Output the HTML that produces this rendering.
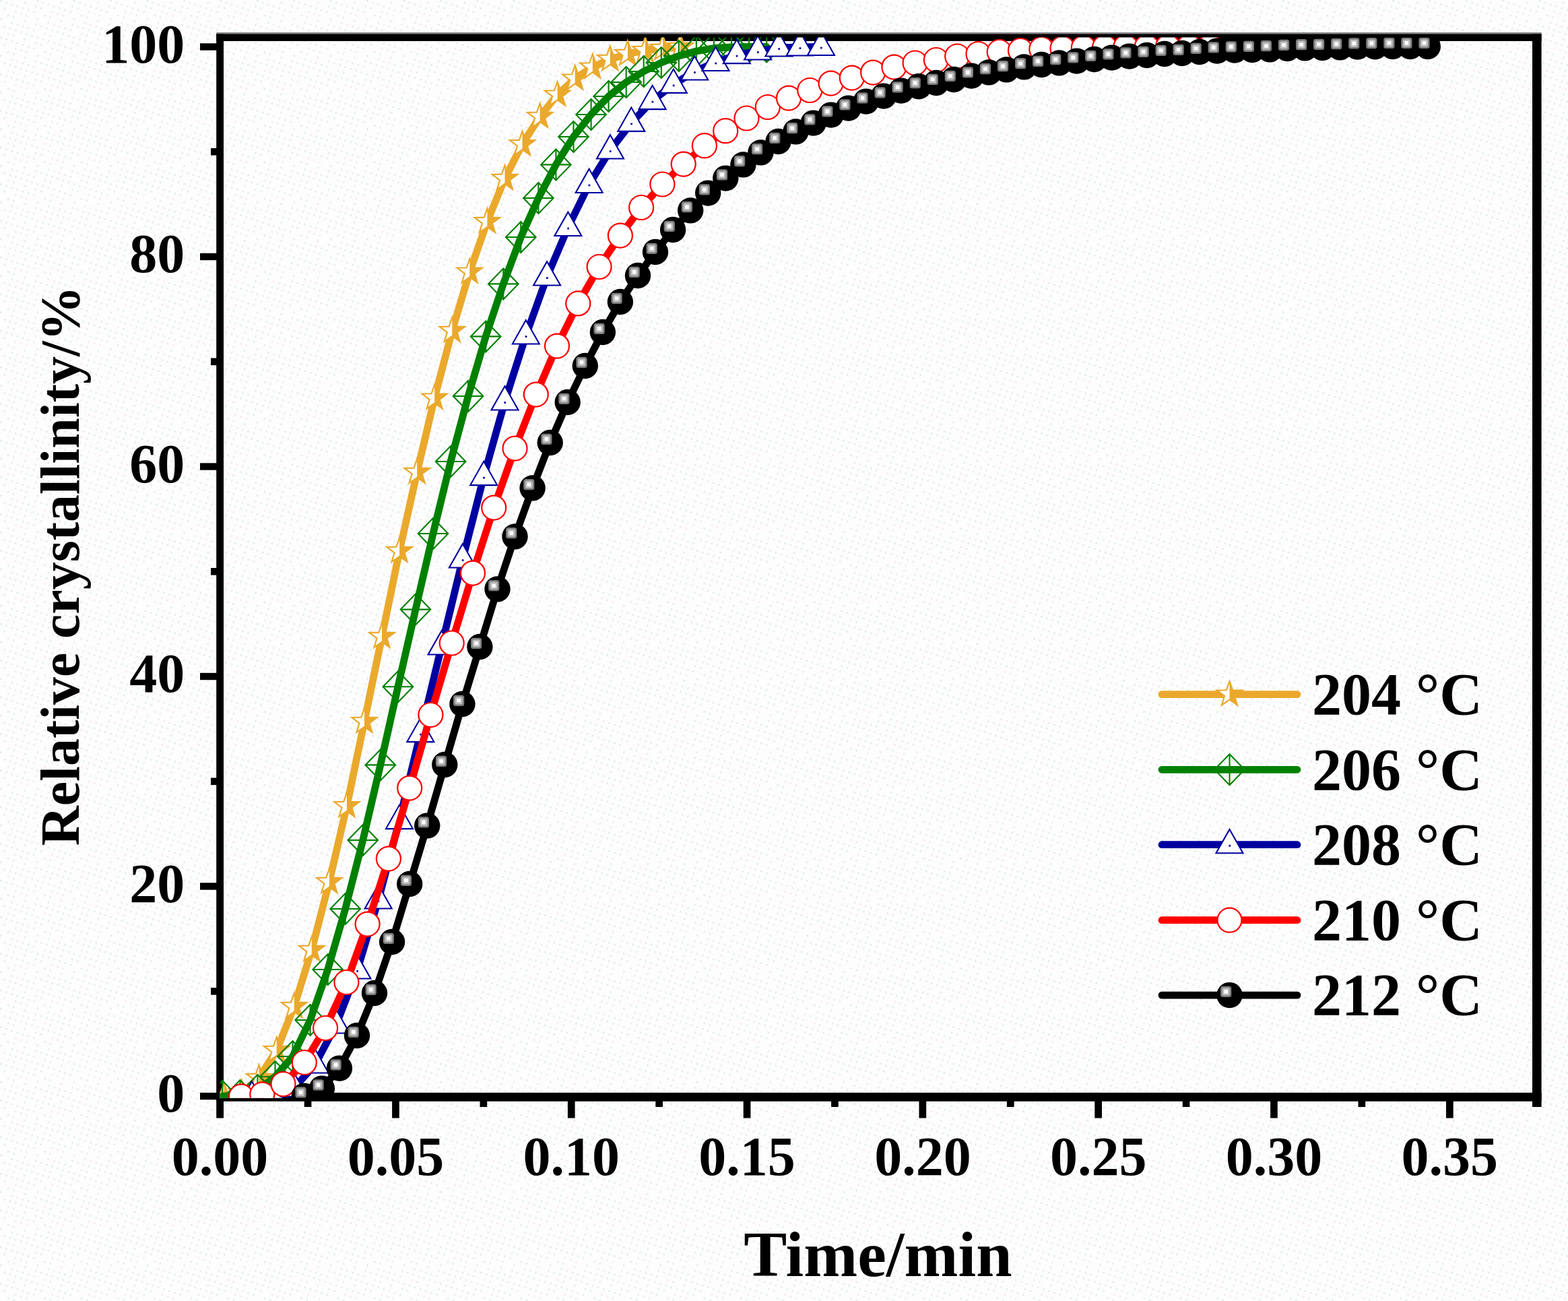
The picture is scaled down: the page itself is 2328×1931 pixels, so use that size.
<!DOCTYPE html>
<html lang="en">
<head>
<meta charset="utf-8">
<title>Relative crystallinity vs. time</title>
<style>
html,body{margin:0;padding:0;background:#fdfdfd;}
body{width:2328px;height:1931px;overflow:hidden;}
svg{display:block;}
text{font-family:"Liberation Serif","Times New Roman",Times,serif;font-weight:bold;fill:#000;}
.tk{font-size:82px;}
.lg{font-size:88px;}
.xt{font-size:96px;}
.yt{font-size:82px;}
</style>
</head>
<body>
<svg width="2328" height="1931" viewBox="0 0 2328 1931">
<defs><pattern id="dz" width="54.4" height="54.4" patternUnits="userSpaceOnUse"><rect x="0" y="0" width="2.72" height="2.72" fill="#e4eded"/><rect x="8.2" y="2.7" width="2.72" height="2.72" fill="#e4eded"/><rect x="5.4" y="10.9" width="2.72" height="2.72" fill="#e4eded"/><rect x="0" y="27.2" width="2.72" height="2.72" fill="#e4eded"/><rect x="16.3" y="5.4" width="2.72" height="2.72" fill="#e4eded"/><rect x="10.9" y="21.8" width="2.72" height="2.72" fill="#e4eded"/><rect x="5.4" y="38.1" width="2.72" height="2.72" fill="#e4eded"/><rect x="24.5" y="8.2" width="2.72" height="2.72" fill="#e4eded"/><rect x="21.8" y="16.3" width="2.72" height="2.72" fill="#f7eaea"/><rect x="19" y="24.5" width="2.72" height="2.72" fill="#e4eded"/><rect x="16.3" y="32.6" width="2.72" height="2.72" fill="#e4eded"/><rect x="13.6" y="40.8" width="2.72" height="2.72" fill="#e4eded"/><rect x="10.9" y="49" width="2.72" height="2.72" fill="#f7eaea"/><rect x="35.4" y="2.7" width="2.72" height="2.72" fill="#e4eded"/><rect x="32.6" y="10.9" width="2.72" height="2.72" fill="#e4eded"/><rect x="29.9" y="19" width="2.72" height="2.72" fill="#f7eaea"/><rect x="24.5" y="35.4" width="2.72" height="2.72" fill="#f7eaea"/><rect x="21.8" y="43.5" width="2.72" height="2.72" fill="#e4eded"/><rect x="19" y="51.7" width="2.72" height="2.72" fill="#e4eded"/><rect x="40.8" y="13.6" width="2.72" height="2.72" fill="#e4eded"/><rect x="38.1" y="21.8" width="2.72" height="2.72" fill="#f7eaea"/><rect x="35.4" y="29.9" width="2.72" height="2.72" fill="#e4eded"/><rect x="32.6" y="38.1" width="2.72" height="2.72" fill="#e4eded"/><rect x="29.9" y="46.2" width="2.72" height="2.72" fill="#e4eded"/><rect x="51.7" y="8.2" width="2.72" height="2.72" fill="#e4eded"/><rect x="49" y="16.3" width="2.72" height="2.72" fill="#e4eded"/><rect x="40.8" y="40.8" width="2.72" height="2.72" fill="#e4eded"/><rect x="38.1" y="49" width="2.72" height="2.72" fill="#e4eded"/><rect x="51.7" y="35.4" width="2.72" height="2.72" fill="#e4eded"/><rect x="49" y="43.5" width="2.72" height="2.72" fill="#e4eded"/><rect x="46.2" y="51.7" width="2.72" height="2.72" fill="#e4eded"/></pattern><g id="mS"><polygon points="0.00,-19.60 4.61,-6.34 18.64,-6.06 7.46,2.42 11.52,15.86 0.00,7.84 -11.52,15.86 -7.46,2.42 -18.64,-6.06 -4.61,-6.34" fill="#fff" stroke="none"/><polygon points="0.00,-19.60 4.61,-6.34 18.64,-6.06 7.46,2.42 11.52,15.86 0.00,7.84" fill="#EAA92C" stroke="none"/><polygon points="0.00,-19.60 4.61,-6.34 18.64,-6.06 7.46,2.42 11.52,15.86 0.00,7.84 -11.52,15.86 -7.46,2.42 -18.64,-6.06 -4.61,-6.34" fill="none" stroke="#EAA92C" stroke-width="2.2" stroke-linejoin="miter"/></g><g id="mD" fill="none" stroke="#008000" stroke-width="2.1"><polygon points="0,-23 22.3,0 0,23 -22.3,0"/><path d="M-22.3 0H22.3M0 -23V23"/></g><g id="mT"><polygon points="0,-22.8 20,12.5 -20,12.5" fill="#fff" stroke="#0000A0" stroke-width="2.1"/><rect x="-1.1" y="0.2" width="2.7" height="2.7" fill="#0000A0"/></g><circle id="mC" r="18" fill="#fff" stroke="#FF0000" stroke-width="2.2"/><g id="mB"><circle r="19.2" fill="#000"/><rect x="-13.4" y="-13.3" width="16.2" height="16.2" rx="3.5" fill="#7d7d7d"/><rect x="-10.9" y="-10.8" width="11.2" height="11.2" rx="2.2" fill="#bdbdbd"/><rect x="-8.1" y="-8" width="5.6" height="5.6" rx="0.8" fill="#fff"/></g><clipPath id="cp"><rect x="326.5" y="55.5" width="1955.5" height="1574.3"/></clipPath></defs>
<rect width="2328" height="1931" fill="#fdfdfd"/>
<rect width="2328" height="1931" fill="url(#dz)"/>
<g fill="#000">
<rect x="321.2" y="48" width="1967.4" height="3" fill="#8a858a"/>
<rect x="321.2" y="50.5" width="1967.4" height="10.5"/>
<rect x="321.2" y="1621.8" width="1967.4" height="12.9"/>
<rect x="321.2" y="50.5" width="10.8" height="1609"/>
<rect x="2275" y="50.5" width="13.6" height="1592.5"/>
<rect x="297" y="1621.8" width="25" height="10.4"/>
<rect x="313" y="1466" width="9" height="10.6"/>
<rect x="297" y="1310.3" width="25" height="10.4"/>
<rect x="313" y="1154.5" width="9" height="10.6"/>
<rect x="297" y="998.8" width="25" height="10.4"/>
<rect x="313" y="843" width="9" height="10.6"/>
<rect x="297" y="687.3" width="25" height="10.4"/>
<rect x="313" y="531.5" width="9" height="10.6"/>
<rect x="297" y="375.8" width="25" height="10.4"/>
<rect x="313" y="219.9" width="9" height="10.6"/>
<rect x="297" y="64.3" width="25" height="10.4"/>
<rect x="451.7" y="1634" width="10.7" height="9"/>
<rect x="582.1" y="1634" width="10.7" height="25.5"/>
<rect x="712.5" y="1634" width="10.7" height="9"/>
<rect x="842.9" y="1634" width="10.7" height="25.5"/>
<rect x="973.3" y="1634" width="10.7" height="9"/>
<rect x="1103.7" y="1634" width="10.7" height="25.5"/>
<rect x="1234.1" y="1634" width="10.7" height="9"/>
<rect x="1364.5" y="1634" width="10.7" height="25.5"/>
<rect x="1494.9" y="1634" width="10.7" height="9"/>
<rect x="1625.3" y="1634" width="10.7" height="25.5"/>
<rect x="1755.7" y="1634" width="10.7" height="9"/>
<rect x="1886.1" y="1634" width="10.7" height="25.5"/>
<rect x="2016.5" y="1634" width="10.7" height="9"/>
<rect x="2147" y="1634" width="10.7" height="25.5"/>
</g>
<g clip-path="url(#cp)">
<path d="M332.5 1627 L358.6 1622 L384.6 1600 L410.7 1559 L436.7 1494 L462.8 1410 L488.9 1309 L514.9 1196.2 L541 1071 L567 945 L593.1 818 L619.2 701 L645.2 590.6 L671.3 491 L697.3 403.6 L723.4 329 L749.5 265 L775.5 214.2 L801.6 173 L827.6 140.6 L853.7 116.6 L879.8 99.6 L905.8 88 L931.9 80 L957.9 75 L984 72 L1010.1 70" fill="none" stroke="#EAA92C" stroke-width="10.8" stroke-linejoin="round" stroke-linecap="round"/>
<use href="#mS" x="332.5" y="1627"/><use href="#mS" x="358.6" y="1622"/><use href="#mS" x="384.6" y="1600"/><use href="#mS" x="410.7" y="1559"/><use href="#mS" x="436.7" y="1494"/><use href="#mS" x="462.8" y="1410"/><use href="#mS" x="488.9" y="1309"/><use href="#mS" x="514.9" y="1196.2"/><use href="#mS" x="541" y="1071"/><use href="#mS" x="567" y="945"/><use href="#mS" x="593.1" y="818"/><use href="#mS" x="619.2" y="701"/><use href="#mS" x="645.2" y="590.6"/><use href="#mS" x="671.3" y="491"/><use href="#mS" x="697.3" y="403.6"/><use href="#mS" x="723.4" y="329"/><use href="#mS" x="749.5" y="265"/><use href="#mS" x="775.5" y="214.2"/><use href="#mS" x="801.6" y="173"/><use href="#mS" x="827.6" y="140.6"/><use href="#mS" x="853.7" y="116.6"/><use href="#mS" x="879.8" y="99.6"/><use href="#mS" x="905.8" y="88"/><use href="#mS" x="931.9" y="80"/><use href="#mS" x="957.9" y="75"/><use href="#mS" x="984" y="72"/><use href="#mS" x="1010.1" y="70"/>
<path d="M330.3 1627 L356.4 1626 L382.4 1618 L408.5 1598 L434.5 1568 L460.6 1514 L486.7 1439 L512.7 1349 L538.8 1247 L564.8 1135.4 L590.9 1019.2 L617 904.6 L643 792 L669.1 685 L695.1 588 L721.2 499.4 L747.3 421.4 L773.3 352 L799.4 294 L825.4 244.4 L851.5 203 L877.6 170 L903.6 143 L929.7 122 L955.7 106 L981.8 93 L1007.9 83 L1033.9 76 L1060 71.5 L1086 70 L1112.1 69.5 L1138.2 69.5" fill="none" stroke="#008000" stroke-width="10.8" stroke-linejoin="round" stroke-linecap="round"/>
<use href="#mD" x="330.3" y="1627"/><use href="#mD" x="356.4" y="1626"/><use href="#mD" x="382.4" y="1618"/><use href="#mD" x="408.5" y="1598"/><use href="#mD" x="434.5" y="1568"/><use href="#mD" x="460.6" y="1514"/><use href="#mD" x="486.7" y="1439"/><use href="#mD" x="512.7" y="1349"/><use href="#mD" x="538.8" y="1247"/><use href="#mD" x="564.8" y="1135.4"/><use href="#mD" x="590.9" y="1019.2"/><use href="#mD" x="617" y="904.6"/><use href="#mD" x="643" y="792"/><use href="#mD" x="669.1" y="685"/><use href="#mD" x="695.1" y="588"/><use href="#mD" x="721.2" y="499.4"/><use href="#mD" x="747.3" y="421.4"/><use href="#mD" x="773.3" y="352"/><use href="#mD" x="799.4" y="294"/><use href="#mD" x="825.4" y="244.4"/><use href="#mD" x="851.5" y="203"/><use href="#mD" x="877.6" y="170"/><use href="#mD" x="903.6" y="143"/><use href="#mD" x="929.7" y="122"/><use href="#mD" x="955.7" y="106"/><use href="#mD" x="981.8" y="93"/><use href="#mD" x="1007.9" y="83"/><use href="#mD" x="1033.9" y="76"/><use href="#mD" x="1060" y="71.5"/><use href="#mD" x="1086" y="70"/><use href="#mD" x="1112.1" y="69.5"/><use href="#mD" x="1138.2" y="69.5"/>
<path d="M373.9 1628 L405.2 1627 L436.5 1615 L467.8 1580 L499.1 1521 L530.4 1440 L561.7 1336 L593 1217.6 L624.3 1088.6 L655.6 959 L686.9 830 L718.2 707.6 L749.5 596 L780.8 498 L812.1 411 L843.4 337.5 L874.7 273.5 L906 223 L937.3 182.4 L968.6 149.6 L999.9 125.4 L1031.2 106 L1062.5 92.5 L1093.8 81.6 L1125.1 76 L1156.4 71 L1187.7 70 L1219 69.5" fill="none" stroke="#0000A0" stroke-width="10.8" stroke-linejoin="round" stroke-linecap="round"/>
<use href="#mT" x="373.9" y="1628"/><use href="#mT" x="405.2" y="1627"/><use href="#mT" x="436.5" y="1615"/><use href="#mT" x="467.8" y="1580"/><use href="#mT" x="499.1" y="1521"/><use href="#mT" x="530.4" y="1440"/><use href="#mT" x="561.7" y="1336"/><use href="#mT" x="593" y="1217.6"/><use href="#mT" x="624.3" y="1088.6"/><use href="#mT" x="655.6" y="959"/><use href="#mT" x="686.9" y="830"/><use href="#mT" x="718.2" y="707.6"/><use href="#mT" x="749.5" y="596"/><use href="#mT" x="780.8" y="498"/><use href="#mT" x="812.1" y="411"/><use href="#mT" x="843.4" y="337.5"/><use href="#mT" x="874.7" y="273.5"/><use href="#mT" x="906" y="223"/><use href="#mT" x="937.3" y="182.4"/><use href="#mT" x="968.6" y="149.6"/><use href="#mT" x="999.9" y="125.4"/><use href="#mT" x="1031.2" y="106"/><use href="#mT" x="1062.5" y="92.5"/><use href="#mT" x="1093.8" y="81.6"/><use href="#mT" x="1125.1" y="76"/><use href="#mT" x="1156.4" y="71"/><use href="#mT" x="1187.7" y="70"/><use href="#mT" x="1219" y="69.5"/>
<path d="M358 1627.4 L389.3 1624.4 L420.5 1609 L451.8 1577 L483.1 1526 L514.4 1458 L545.6 1371.6 L576.9 1274.6 L608.2 1169.6 L639.4 1061 L670.7 954.5 L702 850.6 L733.2 753.6 L764.5 665.6 L795.8 585.6 L827 513.6 L858.3 450.4 L889.6 396 L920.9 349.6 L952.1 308 L983.4 273.5 L1014.7 243.6 L1045.9 216.2 L1077.2 194.2 L1108.5 175.5 L1139.8 159 L1171 145.6 L1202.3 134 L1233.6 123.6 L1264.8 115.6 L1296.1 107.6 L1327.4 99.6 L1358.6 93.5 L1389.9 89 L1421.2 83.5 L1452.5 80 L1483.7 77 L1515 75 L1546.3 73 L1577.5 72 L1608.8 71 L1640.1 70.3 L1671.3 70 L1702.6 70 L1733.9 69.6 L1765.2 69.6 L1796.4 69.5" fill="none" stroke="#FF0000" stroke-width="10.8" stroke-linejoin="round" stroke-linecap="round"/>
<use href="#mC" x="358" y="1627.4"/><use href="#mC" x="389.3" y="1624.4"/><use href="#mC" x="420.5" y="1609"/><use href="#mC" x="451.8" y="1577"/><use href="#mC" x="483.1" y="1526"/><use href="#mC" x="514.4" y="1458"/><use href="#mC" x="545.6" y="1371.6"/><use href="#mC" x="576.9" y="1274.6"/><use href="#mC" x="608.2" y="1169.6"/><use href="#mC" x="639.4" y="1061"/><use href="#mC" x="670.7" y="954.5"/><use href="#mC" x="702" y="850.6"/><use href="#mC" x="733.2" y="753.6"/><use href="#mC" x="764.5" y="665.6"/><use href="#mC" x="795.8" y="585.6"/><use href="#mC" x="827" y="513.6"/><use href="#mC" x="858.3" y="450.4"/><use href="#mC" x="889.6" y="396"/><use href="#mC" x="920.9" y="349.6"/><use href="#mC" x="952.1" y="308"/><use href="#mC" x="983.4" y="273.5"/><use href="#mC" x="1014.7" y="243.6"/><use href="#mC" x="1045.9" y="216.2"/><use href="#mC" x="1077.2" y="194.2"/><use href="#mC" x="1108.5" y="175.5"/><use href="#mC" x="1139.8" y="159"/><use href="#mC" x="1171" y="145.6"/><use href="#mC" x="1202.3" y="134"/><use href="#mC" x="1233.6" y="123.6"/><use href="#mC" x="1264.8" y="115.6"/><use href="#mC" x="1296.1" y="107.6"/><use href="#mC" x="1327.4" y="99.6"/><use href="#mC" x="1358.6" y="93.5"/><use href="#mC" x="1389.9" y="89"/><use href="#mC" x="1421.2" y="83.5"/><use href="#mC" x="1452.5" y="80"/><use href="#mC" x="1483.7" y="77"/><use href="#mC" x="1515" y="75"/><use href="#mC" x="1546.3" y="73"/><use href="#mC" x="1577.5" y="72"/><use href="#mC" x="1608.8" y="71"/><use href="#mC" x="1640.1" y="70.3"/><use href="#mC" x="1671.3" y="70"/><use href="#mC" x="1702.6" y="70"/><use href="#mC" x="1733.9" y="69.6"/><use href="#mC" x="1765.2" y="69.6"/><use href="#mC" x="1796.4" y="69.5"/>
<path d="M451.8 1626.6 L477.9 1615.6 L503.9 1585.6 L530 1537 L556 1474 L582.1 1398 L608.2 1312 L634.2 1225.6 L660.3 1135 L686.4 1045 L712.4 960 L738.5 874.4 L764.5 796.4 L790.6 724.4 L816.7 657 L842.7 597 L868.8 543 L894.9 493 L920.9 448 L947 409 L973 374 L999.1 341 L1025.2 312.4 L1051.2 286.6 L1077.3 264.6 L1103.4 244.4 L1129.4 226.4 L1155.5 210 L1181.5 195.4 L1207.6 182.6 L1233.7 170.6 L1259.7 160.6 L1285.8 150.6 L1311.9 142.6 L1337.9 134.6 L1364 128.3 L1390 123 L1416.1 118 L1442.2 112.6 L1468.2 107.4 L1494.3 103.4 L1520.4 99.4 L1546.4 96 L1572.5 93.4 L1598.5 90.6 L1624.6 88 L1650.7 85.6 L1676.7 83.6 L1702.8 82 L1728.9 80 L1754.9 79 L1781 77 L1807 75.6 L1833.1 74.6 L1859.2 74 L1885.2 73.4 L1911.3 72 L1937.4 71.4 L1963.4 71 L1989.5 70.4 L2015.5 69.6 L2041.6 69.3 L2067.7 69 L2093.7 69 L2119.8 69" fill="none" stroke="#000000" stroke-width="10.8" stroke-linejoin="round" stroke-linecap="round"/>
<use href="#mB" x="451.8" y="1626.6"/><use href="#mB" x="477.9" y="1615.6"/><use href="#mB" x="503.9" y="1585.6"/><use href="#mB" x="530" y="1537"/><use href="#mB" x="556" y="1474"/><use href="#mB" x="582.1" y="1398"/><use href="#mB" x="608.2" y="1312"/><use href="#mB" x="634.2" y="1225.6"/><use href="#mB" x="660.3" y="1135"/><use href="#mB" x="686.4" y="1045"/><use href="#mB" x="712.4" y="960"/><use href="#mB" x="738.5" y="874.4"/><use href="#mB" x="764.5" y="796.4"/><use href="#mB" x="790.6" y="724.4"/><use href="#mB" x="816.7" y="657"/><use href="#mB" x="842.7" y="597"/><use href="#mB" x="868.8" y="543"/><use href="#mB" x="894.9" y="493"/><use href="#mB" x="920.9" y="448"/><use href="#mB" x="947" y="409"/><use href="#mB" x="973" y="374"/><use href="#mB" x="999.1" y="341"/><use href="#mB" x="1025.2" y="312.4"/><use href="#mB" x="1051.2" y="286.6"/><use href="#mB" x="1077.3" y="264.6"/><use href="#mB" x="1103.4" y="244.4"/><use href="#mB" x="1129.4" y="226.4"/><use href="#mB" x="1155.5" y="210"/><use href="#mB" x="1181.5" y="195.4"/><use href="#mB" x="1207.6" y="182.6"/><use href="#mB" x="1233.7" y="170.6"/><use href="#mB" x="1259.7" y="160.6"/><use href="#mB" x="1285.8" y="150.6"/><use href="#mB" x="1311.9" y="142.6"/><use href="#mB" x="1337.9" y="134.6"/><use href="#mB" x="1364" y="128.3"/><use href="#mB" x="1390" y="123"/><use href="#mB" x="1416.1" y="118"/><use href="#mB" x="1442.2" y="112.6"/><use href="#mB" x="1468.2" y="107.4"/><use href="#mB" x="1494.3" y="103.4"/><use href="#mB" x="1520.4" y="99.4"/><use href="#mB" x="1546.4" y="96"/><use href="#mB" x="1572.5" y="93.4"/><use href="#mB" x="1598.5" y="90.6"/><use href="#mB" x="1624.6" y="88"/><use href="#mB" x="1650.7" y="85.6"/><use href="#mB" x="1676.7" y="83.6"/><use href="#mB" x="1702.8" y="82"/><use href="#mB" x="1728.9" y="80"/><use href="#mB" x="1754.9" y="79"/><use href="#mB" x="1781" y="77"/><use href="#mB" x="1807" y="75.6"/><use href="#mB" x="1833.1" y="74.6"/><use href="#mB" x="1859.2" y="74"/><use href="#mB" x="1885.2" y="73.4"/><use href="#mB" x="1911.3" y="72"/><use href="#mB" x="1937.4" y="71.4"/><use href="#mB" x="1963.4" y="71"/><use href="#mB" x="1989.5" y="70.4"/><use href="#mB" x="2015.5" y="69.6"/><use href="#mB" x="2041.6" y="69.3"/><use href="#mB" x="2067.7" y="69"/><use href="#mB" x="2093.7" y="69"/><use href="#mB" x="2119.8" y="69"/>
</g>
<path d="M1725 1030.6H1926" stroke="#EAA92C" stroke-width="10.8" stroke-linecap="round" fill="none"/>
<use href="#mS" x="1825.5" y="1030.6"/>
<text class="lg" x="1948" y="1059.8">204 °C</text>
<path d="M1725 1142.3H1926" stroke="#008000" stroke-width="10.8" stroke-linecap="round" fill="none"/>
<use href="#mD" x="1825.5" y="1142.3"/>
<text class="lg" x="1948" y="1171.5">206 °C</text>
<path d="M1725 1253.7H1926" stroke="#0000A0" stroke-width="10.8" stroke-linecap="round" fill="none"/>
<use href="#mT" x="1825.5" y="1253.7"/>
<text class="lg" x="1948" y="1282.9">208 °C</text>
<path d="M1725 1365.7H1926" stroke="#FF0000" stroke-width="10.8" stroke-linecap="round" fill="none"/>
<use href="#mC" x="1825.5" y="1365.7"/>
<text class="lg" x="1948" y="1394.9">210 °C</text>
<path d="M1725 1477.1H1926" stroke="#000000" stroke-width="10.8" stroke-linecap="round" fill="none"/>
<use href="#mB" x="1825.5" y="1477.1"/>
<text class="lg" x="1948" y="1506.3">212 °C</text>
<text class="tk" text-anchor="end" x="274.3" y="1650.4">0</text>
<text class="tk" text-anchor="end" x="274.3" y="1338.9">20</text>
<text class="tk" text-anchor="end" x="274.3" y="1027.4">40</text>
<text class="tk" text-anchor="end" x="274.3" y="715.9">60</text>
<text class="tk" text-anchor="end" x="274.3" y="404.4">80</text>
<text class="tk" text-anchor="end" x="274.3" y="92.9">100</text>
<text class="tk" text-anchor="middle" x="326.6" y="1744.4">0.00</text>
<text class="tk" text-anchor="middle" x="587.4" y="1744.4">0.05</text>
<text class="tk" text-anchor="middle" x="848.2" y="1744.4">0.10</text>
<text class="tk" text-anchor="middle" x="1109" y="1744.4">0.15</text>
<text class="tk" text-anchor="middle" x="1369.9" y="1744.4">0.20</text>
<text class="tk" text-anchor="middle" x="1630.7" y="1744.4">0.25</text>
<text class="tk" text-anchor="middle" x="1891.5" y="1744.4">0.30</text>
<text class="tk" text-anchor="middle" x="2152.3" y="1744.4">0.35</text>
<text class="xt" text-anchor="middle" x="1303.4" y="1893.8">Time/min</text>
<text class="yt" text-anchor="middle" transform="translate(117.2 839.8) rotate(-90)">Relative crystallinity/%</text>
</svg>
</body>
</html>
